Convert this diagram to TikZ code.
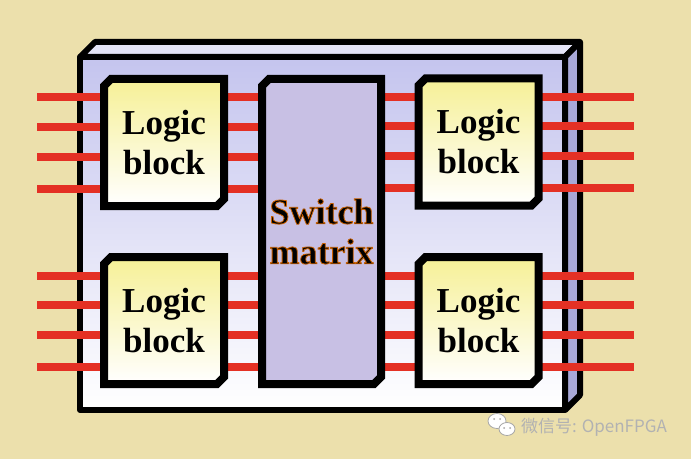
\documentclass[tikz,border=0pt]{standalone}
\usepackage{fontspec}
\setmainfont{Liberation Serif}
\newfontfamily\cjkfont{Noto Sans CJK SC}
\usetikzlibrary{shapes.misc}
\definecolor{bgtan}{RGB}{236,224,172}
\definecolor{wirered}{RGB}{228,48,36}
\definecolor{boardlav}{RGB}{196,196,238}
\definecolor{boardside}{RGB}{168,168,216}
\definecolor{switchlav}{RGB}{200,192,228}
\definecolor{blockyellow}{RGB}{246,240,150}
\newcommand{\glowtext}[1]{\special{pdf:literal direct 2 Tr 0.8 w 0.8 0.38 0 RG}#1\special{pdf:literal direct 0 Tr}}
\pgfdeclarelayer{board}
\pgfdeclarelayer{wires}
\pgfsetlayers{board,wires,main}

\begin{document}
\begin{tikzpicture}[
    x=1pt, y=1pt,
    every node/.style={inner sep=0pt, outer sep=0pt},
    logicblock/.style={chamfered rectangle,
        chamfered rectangle corners={north west,south east},
        chamfered rectangle xsep=4pt, draw=black, line width=8pt,
        top color=blockyellow, bottom color=white,
        minimum width=120pt, minimum height=127pt, align=center,
        font=\fontsize{35}{40}\selectfont\bfseries},
    switchbox/.style={chamfered rectangle,
        chamfered rectangle corners={north west,south east},
        chamfered rectangle xsep=4pt, draw=black, line width=8pt,
        fill=switchlav, minimum width=119pt, minimum height=305pt,
        align=center, font=\fontsize{36}{40}\selectfont\bfseries},
    wire/.style={draw=wirered, line width=8pt},
    boardline/.style={draw=black, line width=6pt, line join=round},
]
\useasboundingbox (0,0) rectangle (691,459);

% blocks
\node[logicblock] (lbnw) at (164,316.5) {Logic\\block};
\node[logicblock] (lbne) at (478.5,317) {Logic\\block};
\node[logicblock] (lbsw) at (164,138.5) {Logic\\block};
\node[logicblock] (lbse) at (478.5,138.5) {Logic\\block};
\node[switchbox] (sw) at (321.5,227.5) {\glowtext{Switch}\\\glowtext{matrix}};

% board
\begin{pgfonlayer}{board}
\fill[bgtan] (0,0) rectangle (691,459);
\path[boardline, fill=boardlav!45] (80,402) -- (95,417) -- (580,417) -- (565,402) -- cycle;
\path[boardline, fill=boardside] (565,402) -- (580,417) -- (580,64) -- (565,49) -- cycle;
\path[boardline, top color=boardlav, bottom color=white] (80,49) rectangle (565,402);
\end{pgfonlayer}

% wires
\begin{pgfonlayer}{wires}
\foreach \dy in {45,16,-14,-46} {
    \foreach \blk in {lbnw,lbsw} {
        \draw[wire] ([yshift=\dy pt]\blk.center) -- ++(-127,0);
        \draw[wire] ([yshift=\dy pt]\blk.center) -- ([yshift=\dy pt]\blk.center -| sw.center);
    }
    \foreach \blk in {lbne,lbse} {
        \draw[wire] ([yshift=\dy pt]\blk.center) -- ++(155,0);
        \draw[wire] ([yshift=\dy pt]\blk.center) -- ([yshift=\dy pt]\blk.center -| sw.center);
    }
}
\end{pgfonlayer}

% watermark
\filldraw[fill=white, draw=black!35, line width=0.8pt] (497,38) ellipse (9 and 7.5);
\filldraw[fill=white, draw=black!35, line width=0.8pt] (507,30) ellipse (8 and 6.5);
\foreach \ex/\ey in {494/40,500/40,504/31,510/31}
    \fill[black!35] (\ex,\ey) circle (1);
\node[font=\cjkfont\fontsize{17}{17}\selectfont, text=black!30, anchor=west] (wm) at (521,32) {微信号: OpenFPGA};
\end{tikzpicture}
\end{document}
